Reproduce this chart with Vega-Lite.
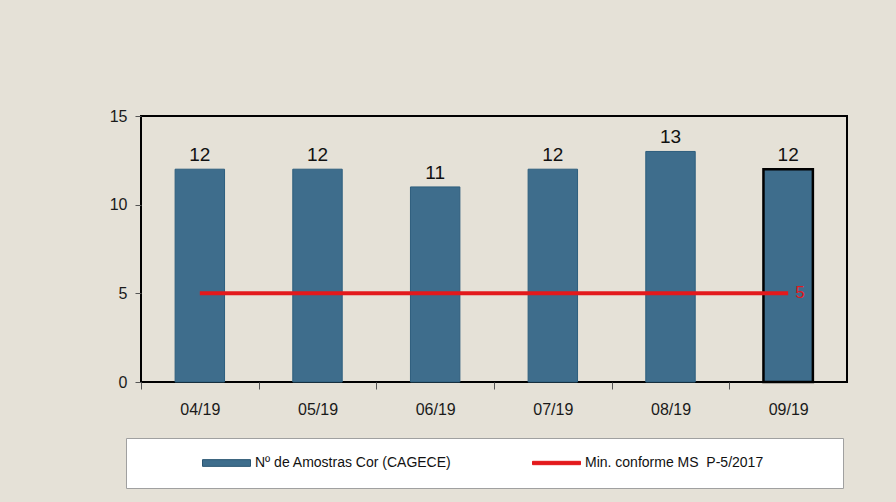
{
  "$schema": "https://vega.github.io/schema/vega-lite/v6.json",
  "width": 706,
  "height": 266,
  "autosize": {"type": "none"},
  "padding": {"left": 141, "top": 116, "right": 49, "bottom": 120},
  "background": "#e5e1d7",
  "config": {
    "font": "Liberation Sans",
    "view": {"stroke": "#000000", "strokeWidth": 2},
    "axis": {"domain": false, "grid": false, "labelFont": "Liberation Sans", "labelFontSize": 16, "labelColor": "#1a1a1a", "tickColor": "#555555"}
  },
  "datasets": {
    "barras": [
      {"mes": "04/19", "n": 12, "serie": "Nº de Amostras Cor (CAGECE)"},
      {"mes": "05/19", "n": 12, "serie": "Nº de Amostras Cor (CAGECE)"},
      {"mes": "06/19", "n": 11, "serie": "Nº de Amostras Cor (CAGECE)"},
      {"mes": "07/19", "n": 12, "serie": "Nº de Amostras Cor (CAGECE)"},
      {"mes": "08/19", "n": 13, "serie": "Nº de Amostras Cor (CAGECE)"},
      {"mes": "09/19", "n": 12, "serie": "Nº de Amostras Cor (CAGECE)"}
    ],
    "minimo": [
      {"mes": "04/19", "min": 5, "serie": "Min. conforme MS\u00a0 P-5/2017"},
      {"mes": "05/19", "min": 5, "serie": "Min. conforme MS\u00a0 P-5/2017"},
      {"mes": "06/19", "min": 5, "serie": "Min. conforme MS\u00a0 P-5/2017"},
      {"mes": "07/19", "min": 5, "serie": "Min. conforme MS\u00a0 P-5/2017"},
      {"mes": "08/19", "min": 5, "serie": "Min. conforme MS\u00a0 P-5/2017"},
      {"mes": "09/19", "min": 5, "serie": "Min. conforme MS\u00a0 P-5/2017"}
    ]
  },
  "layer": [
    {
      "data": {"name": "barras"},
      "mark": {"type": "bar"},
      "encoding": {
        "x": {
          "field": "mes", "type": "ordinal", "sort": null,
          "scale": {"paddingInner": 0.58, "paddingOuter": 0.29},
          "axis": {"title": null, "labelAngle": 0, "tickOffset": -58.8, "labelOffset": 58.8, "tickSize": 7, "labelPadding": 12}
        },
        "y": {
          "field": "n", "type": "quantitative",
          "scale": {"domain": [0, 15], "nice": false},
          "axis": {"title": null, "values": [0, 5, 10, 15], "tickSize": 6, "labelPadding": 8}
        },
        "color": {
          "field": "serie", "type": "nominal",
          "scale": {
            "domain": ["Nº de Amostras Cor (CAGECE)", "Min. conforme MS\u00a0 P-5/2017"],
            "range": ["#3e6d8c", "#e3191c"]
          },
          "legend": {
            "title": "\u00a0",
            "titleOrient": "right",
            "titlePadding": 63,
            "titleFontSize": 10,
            "orient": "none",
            "legendX": -15,
            "legendY": 322,
            "direction": "horizontal",
            "padding": 17,
            "fillColor": "#ffffff",
            "strokeColor": "#a0a0a0",
            "symbolSize": 2304,
            "clipHeight": 16,
            "symbolOffset": 59,
            "labelOffset": 4,
            "columnPadding": 21,
            "labelFont": "Liberation Sans",
            "labelFontSize": 14,
            "labelColor": "#111111",
            "labelLimit": 400,
            "symbolType": {"expr": "datum.index === 1 ? 'M-1,-0.07H1V0.07H-1Z' : 'M-1,-0.14H1V0.14H-1Z'"},
            "symbolStrokeColor": {"expr": "datum.index === 1 ? '#e3191c' : '#2a5572'"},
            "symbolStrokeWidth": 1,
            "symbolOpacity": 1
          }
        },
        "stroke": {"condition": {"test": "datum.mes === '09/19'", "value": "#000000"}, "value": "#2d5e7d"},
        "strokeWidth": {"condition": {"test": "datum.mes === '09/19'", "value": 2.5}, "value": 1}
      }
    },
    {
      "data": {"name": "barras"},
      "mark": {"type": "text", "baseline": "alphabetic", "dy": -8, "fontSize": 19, "color": "#111111"},
      "encoding": {
        "x": {"field": "mes", "type": "ordinal", "sort": null},
        "y": {"field": "n", "type": "quantitative"},
        "text": {"field": "n", "type": "quantitative"}
      }
    },
    {
      "data": {"name": "minimo"},
      "mark": {"type": "line", "strokeWidth": 4, "color": "#e3191c"},
      "encoding": {
        "x": {"field": "mes", "type": "ordinal", "sort": null},
        "y": {"field": "min", "type": "quantitative"}
      }
    },
    {
      "data": {"name": "minimo"},
      "transform": [{"filter": "datum.mes === '09/19'"}],
      "mark": {"type": "text", "align": "left", "baseline": "middle", "dx": 7, "fontSize": 17, "color": "#e3191c"},
      "encoding": {
        "x": {"field": "mes", "type": "ordinal", "sort": null},
        "y": {"field": "min", "type": "quantitative"},
        "text": {"field": "min", "type": "quantitative"}
      }
    }
  ]
}
